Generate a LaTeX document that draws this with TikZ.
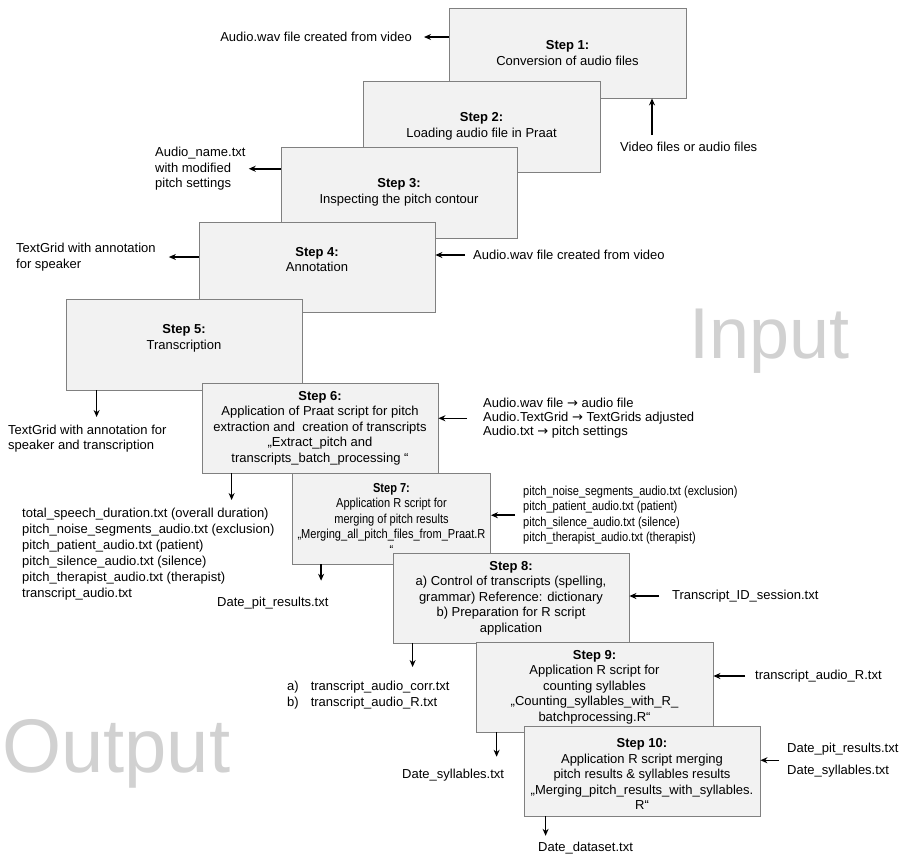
\documentclass[tikz,border=0pt]{standalone}
\usepackage{fontspec}
\setmainfont{Liberation Sans}
\newfontfamily\symfont{DejaVu Sans}
\newfontfamily\narrowfont[FakeStretch=0.85]{Liberation Sans}
\newcommand{\toarr}{{\symfont →}}
\usetikzlibrary{arrows.meta}

\begin{document}
\begin{tikzpicture}[
        x=1pt, y=-1pt,
        box/.style={rectangle, draw=black!50, fill=black!5, line width=0.8pt, minimum width=236pt, minimum height=90pt, inner sep=0pt, align=center, font=\fontsize{13}{15.5}\selectfont},
        lbl/.style={inner sep=0pt, align=left, font=\fontsize{13}{16}\selectfont},
        arrow/.style={line width=1.5pt,->,>={Stealth[length=7pt,width=6pt]}},
        bigword/.style={inner sep=0pt, text=black!18, font=\fontsize{76}{80}\selectfont}
    ]
        \useasboundingbox (0,0) rectangle (902,855);

        % Background words
        \node (inword) [bigword, anchor=base west, font=\fontsize{72}{80}\selectfont] at (689,358) {Input};
        \node (outword) [bigword, anchor=base west] at (2,772) {Output};

        % Steps
        \node (step1) [box, minimum width=237pt] at (567.5,53) {\textbf{Step 1:}\\Conversion of audio files};
        \node (step2) [box, minimum width=237pt, minimum height=91pt] at (481.5,126.5) {\textbf{Step 2:}\\Loading audio file in Praat};
        \node (step3) [box, minimum height=91pt] at (399,192.5) {\textbf{Step 3:}\\Inspecting the pitch contour};
        \node (step4) [box] at (317,267) {\textbf{Step 4:}\\Annotation\\\mbox{}};
        \node (step5) [box, minimum height=91pt] at (184,344.5) {\textbf{Step 5:}\\Transcription\\\mbox{}};
        \node (step6) [box] at (320,428) {\textbf{Step 6:}\\Application of Praat script for pitch\\extraction and\ \ creation of transcripts\\„Extract\_pitch and\\transcripts\_batch\_processing “};
        \node (step7) [box, minimum width=198pt, minimum height=91pt, font=\narrowfont\fontsize{13}{15.5}\selectfont] at (391.5,518.5) {\textbf{Step 7:}\\Application R script for\\merging of pitch results\\„Merging\_all\_pitch\_files\_from\_Praat.R\\“};
        \node (step8) [box] at (511,598) {\textbf{Step 8:}\\a) Control of transcripts (spelling,\\grammar) Reference: dictionary\\b) Preparation for R script\\application};
        \node (step9) [box, minimum width=237pt] at (594.5,687) {\textbf{Step 9:}\\Application R script for\\counting syllables\\„Counting\_syllables\_with\_R\_\\batchprocessing.R“};
        \node (step10) [box] at (642,771) {\mbox{}\\\textbf{Step 10:}\\Application R script merging\\pitch results \& syllables results\\„Merging\_pitch\_results\_with\_syllables.\\R“};

        % Inputs and outputs
        \node (wavout) [lbl, anchor=east] at (412,37) {Audio.wav file created from video};
        \node (vidin) [lbl, anchor=west] at (620,147) {Video files or audio files};
        \node (namepitch) [lbl, anchor=north west, font=\fontsize{13}{15.5}\selectfont] at (155,147) {Audio\_name.txt\\with modified\\pitch settings};
        \node (tgspeaker) [lbl, anchor=north west, font=\fontsize{13}{15.5}\selectfont] at (16,243) {TextGrid with annotation\\for speaker};
        \node (wavin) [lbl, anchor=west] at (473,255) {Audio.wav file created from video};
        \node (tgtrans) [lbl, anchor=north west, font=\fontsize{13}{15}\selectfont] at (8,425) {TextGrid with annotation for\\speaker and transcription};
        \node (praatin) [lbl, anchor=north west, font=\fontsize{13}{14}\selectfont] at (483,398) {Audio.wav file \toarr{} audio file\\Audio.TextGrid \toarr{} TextGrids adjusted\\Audio.txt \toarr{} pitch settings};
        \node (praatout) [lbl, anchor=north west] at (22,508) {total\_speech\_duration.txt (overall duration)\\pitch\_noise\_segments\_audio.txt (exclusion)\\pitch\_patient\_audio.txt (patient)\\pitch\_silence\_audio.txt (silence)\\pitch\_therapist\_audio.txt (therapist)\\transcript\_audio.txt};
        \node (pitchin) [lbl, anchor=north west, font=\narrowfont\fontsize{13}{15.3}\selectfont] at (523,486) {pitch\_noise\_segments\_audio.txt (exclusion)\\pitch\_patient\_audio.txt (patient)\\pitch\_silence\_audio.txt (silence)\\pitch\_therapist\_audio.txt (therapist)};
        \node (pitres) [lbl, anchor=west] at (217,603) {Date\_pit\_results.txt};
        \node (transin) [lbl, anchor=west] at (672,596) {Transcript\_ID\_session.txt};
        \node (corrout) [lbl, anchor=north west] at (287,681) {a)\hspace{12pt}transcript\_audio\_corr.txt\\b)\hspace{12pt}transcript\_audio\_R.txt};
        \node (trRin) [lbl, anchor=west] at (755,676) {transcript\_audio\_R.txt};
        \node (sylout) [lbl, anchor=west] at (402,775) {Date\_syllables.txt};
        \node (datain) [lbl, anchor=north west, font=\fontsize{13}{22}\selectfont] at (787,743) {Date\_pit\_results.txt\\Date\_syllables.txt};
        \node (dataout) [lbl, anchor=west] at (538,848) {Date\_dataset.txt};

        % Connections
        \draw[arrow, shorten >=12pt] (step1.west |- wavout.east) -- (wavout.east);
        \coordinate (vidtop) at ([xshift=32pt,yshift=7pt]vidin.north west);
        \draw[arrow] (vidtop) -- (vidtop |- step1.south);

        \draw[arrow, shorten >=3pt] (step3.west |- namepitch.east) -- (namepitch.east);

        \draw[arrow, shorten >=13pt] (step4.west |- tgspeaker.east) -- (tgspeaker.east);
        \draw[arrow, shorten <=8pt] (wavin.west) -- (step4.east |- wavin.west);

        \coordinate (tgtop) at ([xshift=31pt]step5.south west);
        \draw[arrow, shorten >=8pt] (tgtop) -- (tgtop |- tgtrans.north);

        \draw[arrow, shorten <=16pt] (praatin.west) -- (step6.east |- praatin.west);
        \coordinate (p6bot) at ([xshift=30pt]step6.south west);
        \draw[arrow, shorten >=8pt] (p6bot) -- (p6bot |- praatout.north);

        \draw[arrow, shorten <=8pt] (pitchin.west) -- (step7.east |- pitchin.west);
        \coordinate (p7bot) at ([xshift=29pt]step7.south west);
        \draw[arrow, shorten >=16pt] (p7bot) -- (p7bot |- pitres.north);

        \draw[arrow, shorten <=13pt] (transin.west) -- (step8.east |- transin.west);
        \coordinate (p8bot) at ([xshift=20pt]step8.south west);
        \draw[arrow, shorten >=14pt] (p8bot) -- (p8bot |- corrout.north);

        \draw[arrow, shorten <=10pt] (trRin.west) -- (step9.east |- trRin.west);
        \coordinate (p9bot) at ([xshift=21pt]step9.south west);
        \draw[arrow, shorten >=12pt] (p9bot) -- (p9bot |- sylout.north);

        \draw[arrow, shorten <=8pt] (datain.west) -- (step10.east |- datain.west);
        \coordinate (p10bot) at ([xshift=22pt]step10.south west);
        \draw[arrow, shorten >=6pt] (p10bot) -- (p10bot |- dataout.north);
    \end{tikzpicture}
\end{document}
